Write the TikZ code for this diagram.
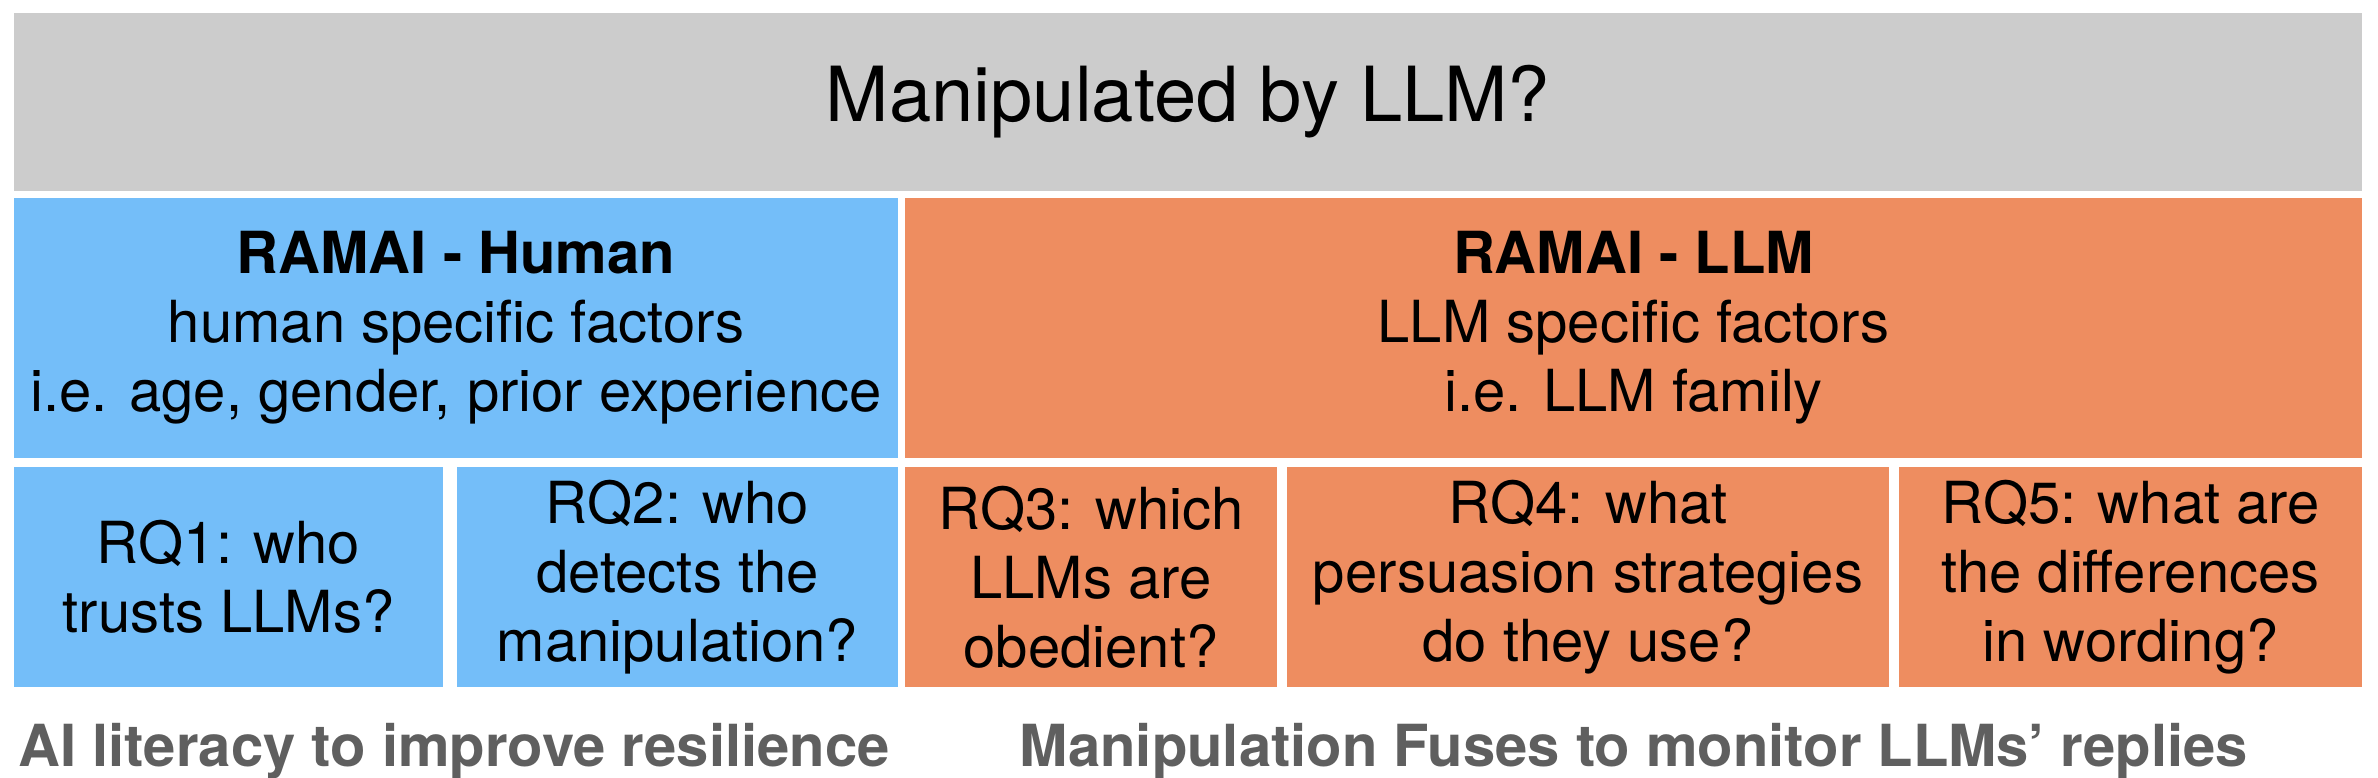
\documentclass[tikz,border=0pt]{standalone}
\usepackage{fontspec}
\setmainfont{TeX Gyre Heros}
\definecolor{topgray}{RGB}{204,204,204}
\definecolor{humblue}{RGB}{116,190,249}
\definecolor{llmorange}{RGB}{238,141,96}
\definecolor{notegray}{RGB}{95,95,95}
\tikzset{
  cell/.style={rectangle, draw=none, inner sep=0pt, outer sep=0pt, anchor=north west, align=center,
    font=\fontsize{58}{69}\selectfont, text=black},
  humancell/.style={cell, fill=humblue},
  llmcell/.style={cell, fill=llmorange},
  note/.style={font=\fontsize{58}{68}\selectfont\bfseries, text=notegray, anchor=base}
}
\begin{document}
\begin{tikzpicture}[x=1pt,y=-1pt]
\useasboundingbox[fill=white] (0,0) rectangle (2378,778);
% title
\node[cell, fill=topgray, minimum width=2348pt, minimum height=178pt, font=\fontsize{76}{90}\selectfont] (title) at (14,13) {Manipulated by LLM?};
% headers
\node[humancell, minimum width=884pt, minimum height=260pt] (human) at (14,198)
  {\textbf{RAMAI - Human}\\human specific factors\\i.e. age, gender, prior experience};
\node[llmcell, minimum width=1457pt, minimum height=260pt] (llm) at (905,198)
  {\textbf{RAMAI - LLM}\\LLM specific factors\\i.e. LLM family};
% research questions
\node[humancell, minimum width=429pt, minimum height=220pt] (rq1) at (14,467) {RQ1: who\\trusts LLMs?};
\node[humancell, minimum width=441pt, minimum height=220pt] (rq2) at (457,467) {RQ2: who\\detects the\\manipulation?};
\node[llmcell, minimum width=372pt, minimum height=220pt] (rq3) at (905,467) {RQ3: which\\LLMs are\\obedient?};
\node[llmcell, minimum width=602pt, minimum height=220pt] (rq4) at (1287,467) {RQ4: what\\persuasion strategies\\do they use?};
\node[llmcell, minimum width=463pt, minimum height=220pt] (rq5) at (1899,467) {RQ5: what are\\the differences\\in wording?};
% bottom notes
\node[note] (humnote) at (454,766) {AI literacy to improve resilience};
\node[note] (llmnote) at (1634,766) {Manipulation Fuses to monitor LLMs’ replies};
\end{tikzpicture}
\end{document}
